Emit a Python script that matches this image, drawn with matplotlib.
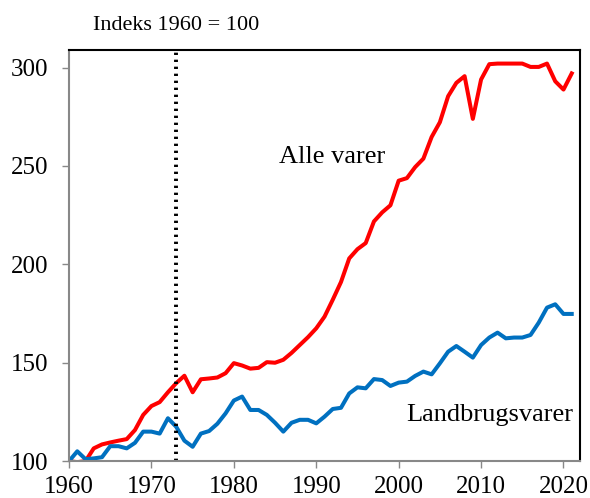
import numpy as np
import matplotlib.pyplot as plt

years = np.arange(1960, 2022)

alle_varer = [100, 99.5, 100, 106.5, 108.5, 109.5, 110.4, 111.2, 115.8, 123.5,
              128, 130, 135, 139.6, 143.4, 135, 141.6, 142, 142.5, 144.7,
              149.8, 148.6, 147, 147.4, 150.3, 150, 151.5, 155, 159, 163,
              167.5, 173.4, 182, 191, 203, 207.7, 210.8, 221.8, 226.4, 230,
              242.5, 243.8, 249.4, 253.7, 264.7, 272.2, 285.4, 292.2, 295.6, 273.9,
              293.9, 301.7, 302, 302, 302, 302, 300.3, 300.3, 302, 293,
              288.8, 297]

landbrugsvarer = [100, 105, 101, 101.4, 102, 107.6, 107.6, 106.5, 109.3, 115,
                  115, 114, 121.8, 117.5, 110.4, 107.3, 114, 115.3, 119, 124.3,
                  130.8, 132.8, 126, 126, 123.5, 119.5, 115, 119.5, 121, 121,
                  119.2, 122.6, 126.5, 127.1, 134.4, 137.5, 137, 141.7, 141.2, 138.2,
                  139.9, 140.4, 143.3, 145.5, 144.1, 149.7, 155.6, 158.5, 155.6, 152.6,
                  159, 162.8, 165.3, 162.4, 162.8, 162.8, 164.1, 170.4, 178, 179.7,
                  174.8, 174.8]

plt.rcParams['font.family'] = ['Liberation Serif', 'DejaVu Serif']

fig = plt.figure(figsize=(5.9, 4.98), dpi=100)
ax = fig.add_axes([0.117, 0.074, 0.866, 0.826])

ax.plot(years, alle_varer, color='#ff0000', lw=2.9, solid_joinstyle='round')
ax.plot(years, landbrugsvarer, color='#0070c0', lw=2.9, solid_joinstyle='round')
ax.axvline(1973, color='black', lw=2.8, linestyle=(0, (0.6, 1.2)))

ax.set_xlim(1960, 2022)
ax.set_ylim(100, 309)
ax.set_xticks(range(1960, 2021, 10))
ax.set_yticks(range(100, 301, 50))
ax.tick_params(axis='both', direction='out', length=5, width=1, color='#888888',
               labelsize=18)
ax.tick_params(axis='y', pad=10)
ax.tick_params(axis='x', pad=6)

ax.spines['left'].set_color('#888888')
ax.spines['bottom'].set_color('#888888')
ax.spines['top'].set_color('black')
ax.spines['right'].set_color('black')
for s in ax.spines.values():
    s.set_linewidth(1.5)

ax.text(1991.9, 254.7, 'Alle varer', fontsize=19, ha='center', va='center')
ax.text(2011.1, 123.4, 'Landbrugsvarer', fontsize=19, ha='center', va='center')
fig.text(93 / 590, 1 - 25 / 498, 'Indeks 1960 = 100', fontsize=16, ha='left', va='center')

plt.savefig('out.png', dpi=100)
